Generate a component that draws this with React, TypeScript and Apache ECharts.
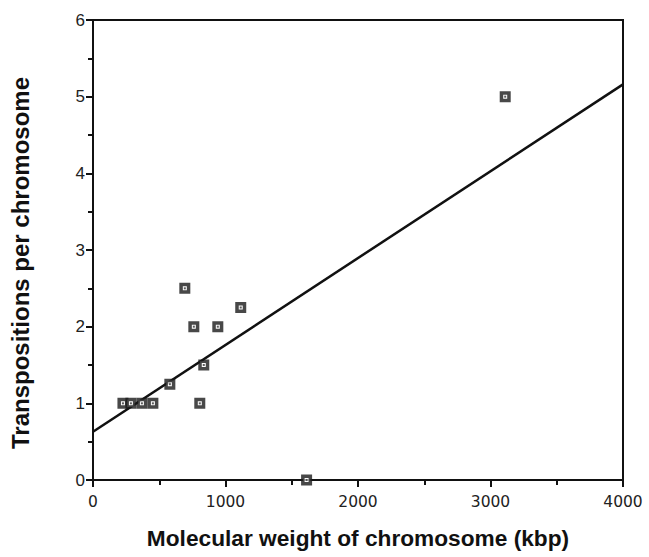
import React, { useEffect, useRef } from "react";
import * as echarts from "echarts";

const sizeKbp = [226, 286, 369, 452, 580, 693, 761, 806, 836, 942, 1115, 1612, 3111];
const transpositions = [1, 1, 1, 1, 1.25, 2.5, 2, 1, 1.5, 2, 2.25, 0, 5];
const fitX = [0, 4000];
const fitY = [0.63, 5.16];
const xTitle = "Molecular weight of chromosome (kbp)";
const yTitle = "Transpositions per chromosome";

export default function App() {
  const ref = useRef<HTMLDivElement>(null);
  useEffect(() => {
    const chart = echarts.init(ref.current!, undefined, { renderer: "svg" });
    const pts = sizeKbp.map((x, i) => [x, transpositions[i]]);
    const fit = fitX.map((x, i) => [x, fitY[i]]);
    chart.setOption({
      animation: false,
      backgroundColor: "#fff",
      grid: {
        left: 92,
        right: 26,
        top: 20,
        bottom: 77,
        show: true,
        borderColor: "#111",
        borderWidth: 2,
      },
      xAxis: {
        type: "value",
        min: 0,
        max: 4000,
        interval: 1000,
        name: xTitle,
        nameLocation: "middle",
        nameGap: 46,
        nameTextStyle: { fontFamily: "Liberation Sans", fontWeight: "bold", fontSize: 22.7, color: "#111" },
        axisLine: { show: true, lineStyle: { color: "#111", width: 2 } },
        axisTick: { show: true, inside: false, length: 7, lineStyle: { color: "#111", width: 2 } },
        minorTick: { show: true, splitNumber: 2, length: 5, lineStyle: { color: "#111", width: 2 } },
        axisLabel: {
          fontFamily: "DejaVu Sans",
          fontSize: 15.5,
          color: "#222",
          margin: 14,
          formatter: (v: number) => String(v),
        },
        splitLine: { show: false },
      },
      yAxis: {
        type: "value",
        min: 0,
        max: 6,
        interval: 1,
        name: yTitle,
        nameLocation: "middle",
        nameGap: 61,
        nameTextStyle: {
          fontFamily: "Liberation Sans",
          fontWeight: "bold",
          fontSize: 24,
          color: "#111",
          padding: [0, 26, 0, 0],
        },
        axisLine: { show: true, lineStyle: { color: "#111", width: 2 } },
        axisTick: { show: true, inside: false, length: 7, lineStyle: { color: "#111", width: 2 } },
        minorTick: { show: true, splitNumber: 2, length: 5, lineStyle: { color: "#111", width: 2 } },
        axisLabel: { fontFamily: "Liberation Sans", fontSize: 17, color: "#222", margin: 8 },
        splitLine: { show: false },
      },
      series: [
        {
          type: "line",
          data: fit,
          symbol: "none",
          lineStyle: { color: "#111", width: 2.5 },
          z: 2,
        },
        {
          type: "scatter",
          data: pts,
          symbol: "rect",
          symbolSize: 7.5,
          itemStyle: { color: "#fff", borderColor: "#1a1a1a", borderWidth: 3.5 },
          z: 3,
        },
        {
          type: "scatter",
          data: pts,
          symbol: "rect",
          symbolSize: 2,
          itemStyle: { color: "#333" },
          z: 4,
        },
      ],
    });
    return () => chart.dispose();
  }, []);
  return <div ref={ref} style={{ width: 649, height: 557, position: "absolute", left: 0, top: 0 }} />;
}
